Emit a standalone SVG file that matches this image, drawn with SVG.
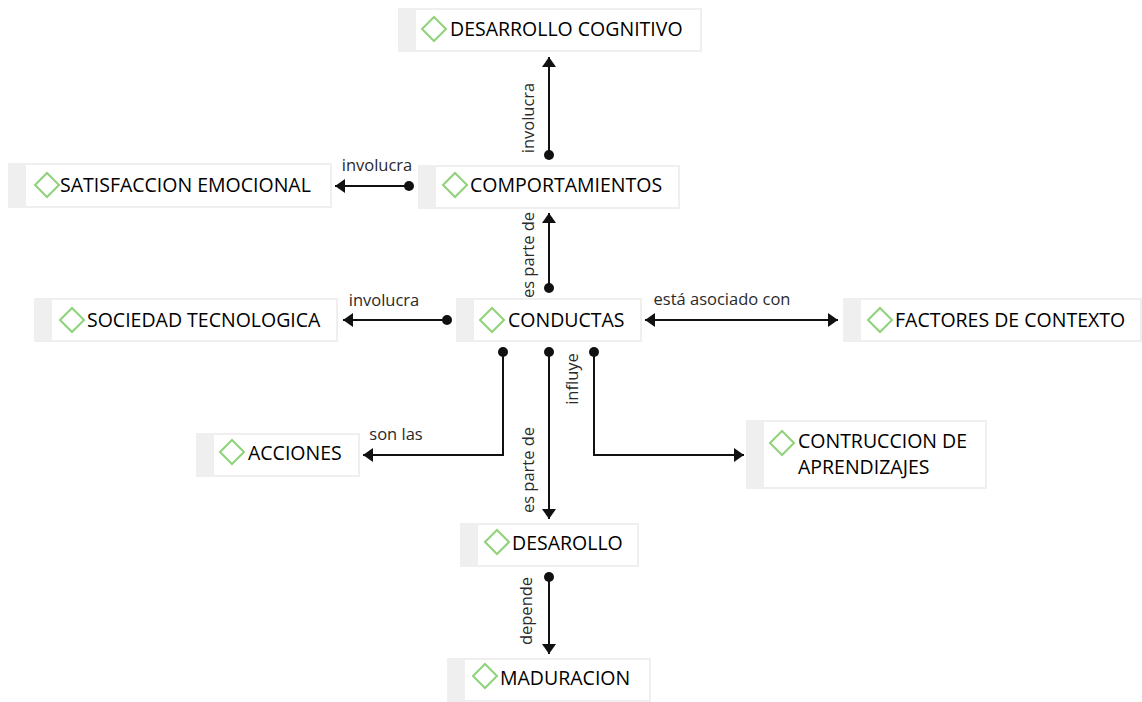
<svg xmlns="http://www.w3.org/2000/svg" width="1142" height="702" viewBox="0 0 1142 702">
<defs>
<style>
.outer{fill:#efefef;}
.inner{fill:#ffffff;}
.dia{fill:none;stroke:#8fd27a;stroke-width:2;}
.nt{font-family:"Open Sans","DejaVu Sans",sans-serif;font-size:19.5px;font-weight:500;fill:#000;}
.lbl{font-family:"Open Sans","DejaVu Sans",sans-serif;font-size:16.5px;fill:#2a2a2a;}
.ln{fill:none;stroke:#111;stroke-width:2;}
.dot{fill:#111;}
</style>
<marker id="arr" viewBox="0 0 10 14" refX="10" refY="7" markerWidth="10" markerHeight="14" markerUnits="userSpaceOnUse" orient="auto-start-reverse">
<path d="M0,0 L10,7 L0,14 Z" fill="#111"/>
</marker>
</defs>
<rect width="1142" height="702" fill="#ffffff"/>

<g id="connectors">
<path class="ln" d="M549,155 V57" marker-end="url(#arr)"/>
<circle class="dot" cx="549" cy="155" r="5"/>
<g transform="translate(534,118) rotate(-90)"><text class="lbl" text-anchor="middle">involucra</text></g>

<path class="ln" d="M409,186 H335" marker-end="url(#arr)"/>
<circle class="dot" cx="409" cy="186" r="5"/>
<text class="lbl" x="377" y="171" text-anchor="middle">involucra</text>

<path class="ln" d="M549,288 V213" marker-end="url(#arr)"/>
<circle class="dot" cx="549" cy="288" r="5"/>
<g transform="translate(534,255) rotate(-90)"><text class="lbl" text-anchor="middle">es parte de</text></g>

<path class="ln" d="M447,320 H343" marker-end="url(#arr)"/>
<circle class="dot" cx="447" cy="320" r="5"/>
<text class="lbl" x="384" y="306" text-anchor="middle">involucra</text>

<path class="ln" d="M645,320 H838" marker-start="url(#arr)" marker-end="url(#arr)"/>
<text class="lbl" x="722" y="305" text-anchor="middle">está asociado con</text>

<path class="ln" d="M503,352 V455 H363" marker-end="url(#arr)"/>
<circle class="dot" cx="503" cy="352" r="5"/>
<text class="lbl" x="396" y="440" text-anchor="middle">son las</text>

<path class="ln" d="M549,352 V519" marker-end="url(#arr)"/>
<circle class="dot" cx="549" cy="352" r="5"/>
<g transform="translate(534,470) rotate(-90)"><text class="lbl" text-anchor="middle">es parte de</text></g>

<path class="ln" d="M594,352 V455 H744" marker-end="url(#arr)"/>
<circle class="dot" cx="594" cy="352" r="5"/>
<g transform="translate(578,379) rotate(-90)"><text class="lbl" text-anchor="middle">influye</text></g>

<path class="ln" d="M549,577 V654" marker-end="url(#arr)"/>
<circle class="dot" cx="549" cy="577" r="5"/>
<g transform="translate(532,611) rotate(-90)"><text class="lbl" text-anchor="middle">depende</text></g>
</g>

<g id="n-desarrollo-cognitivo">
<rect class="outer" x="398" y="8" width="304" height="44"/>
<rect class="inner" x="416" y="10" width="284" height="40"/>
<path class="dia" d="M434,17 L446,29 L434,41 L422,29 Z"/>
<text class="nt" x="450" y="36">DESARROLLO COGNITIVO</text>
</g>

<g id="n-satisfaccion">
<rect class="outer" x="8" y="163" width="324" height="45"/>
<rect class="inner" x="26" y="165" width="304" height="41"/>
<path class="dia" d="M47,173 L59,185 L47,197 L35,185 Z"/>
<text class="nt" x="60" y="192">SATISFACCION EMOCIONAL</text>
</g>

<g id="n-comportamientos">
<rect class="outer" x="418" y="165" width="262" height="44"/>
<rect class="inner" x="436" y="167" width="242" height="40"/>
<path class="dia" d="M455,173 L467,185 L455,197 L443,185 Z"/>
<text class="nt" x="470" y="192">COMPORTAMIENTOS</text>
</g>

<g id="n-conductas">
<rect class="outer" x="456" y="298" width="186" height="44"/>
<rect class="inner" x="474" y="300" width="166" height="40"/>
<path class="dia" d="M492,308 L504,320 L492,332 L480,320 Z"/>
<text class="nt" x="508" y="327">CONDUCTAS</text>
</g>

<g id="n-factores">
<rect class="outer" x="843" y="298" width="299" height="44"/>
<rect class="inner" x="861" y="300" width="279" height="40"/>
<path class="dia" d="M880,308 L892,320 L880,332 L868,320 Z"/>
<text class="nt" x="895" y="327">FACTORES DE CONTEXTO</text>
</g>

<g id="n-sociedad">
<rect class="outer" x="34" y="298" width="304" height="44"/>
<rect class="inner" x="52" y="300" width="284" height="40"/>
<path class="dia" d="M72,308 L84,320 L72,332 L60,320 Z"/>
<text class="nt" x="87" y="327">SOCIEDAD TECNOLOGICA</text>
</g>

<g id="n-acciones">
<rect class="outer" x="196" y="433" width="164" height="44"/>
<rect class="inner" x="214" y="435" width="144" height="40"/>
<path class="dia" d="M232,440 L244,452 L232,464 L220,452 Z"/>
<text class="nt" x="248" y="460">ACCIONES</text>
</g>

<g id="n-construccion">
<rect class="outer" x="746" y="420" width="241" height="69"/>
<rect class="inner" x="764" y="422" width="221" height="65"/>
<path class="dia" d="M782,431 L794,443 L782,455 L770,443 Z"/>
<text class="nt" x="798" y="448">CONTRUCCION DE</text>
<text class="nt" x="798" y="474">APRENDIZAJES</text>
</g>

<g id="n-desarollo">
<rect class="outer" x="460" y="523" width="179" height="44"/>
<rect class="inner" x="478" y="525" width="159" height="40"/>
<path class="dia" d="M497,530 L509,542 L497,554 L485,542 Z"/>
<text class="nt" x="512" y="550">DESAROLLO</text>
</g>

<g id="n-maduracion">
<rect class="outer" x="447" y="658" width="204" height="44"/>
<rect class="inner" x="465" y="660" width="184" height="40"/>
<path class="dia" d="M485,664 L497,676 L485,688 L473,676 Z"/>
<text class="nt" x="500" y="685">MADURACION</text>
</g>
</svg>
